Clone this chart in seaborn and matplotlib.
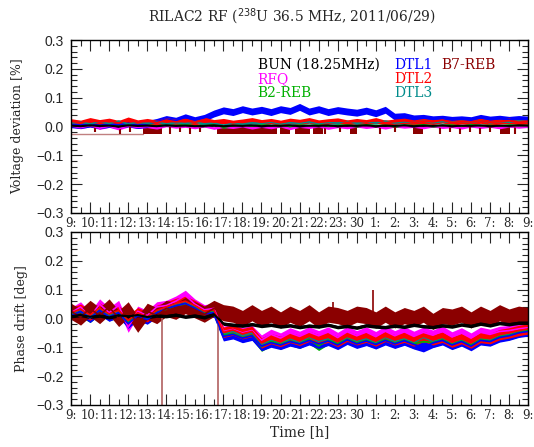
import numpy as np
import matplotlib
matplotlib.use("Agg")
import matplotlib.pyplot as plt
import seaborn as sns

# sample times, hours after 9:00 on 2011/06/29 (half-hour steps)
hours = np.arange(0, 24.01, 0.5)

tick_labels = ["9:", "10:", "11:", "12:", "13:", "14:", "15:", "16:", "17:", "18:",
               "19:", "20:", "21:", "22:", "23:", "30", "1:", "2:", "3:", "4:",
               "5:", "6:", "7:", "8:", "9:"]

# ---- voltage deviation [%] ----
bun_volt = [0.003, 0.001, 0.004, 0.002, 0.003, 0.000, 0.004, 0.002, 0.003, 0.001,
            0.004, 0.002, 0.003, 0.001, 0.002, 0.004, 0.001, 0.003, 0.002, 0.004,
            0.001, 0.003, 0.002, 0.004, 0.001, 0.003, 0.002, 0.004, 0.001, 0.003,
            0.002, 0.004, 0.001, 0.003, 0.002, 0.004, 0.001, 0.003, 0.002, 0.004,
            0.001, 0.003, 0.002, 0.004, 0.001, 0.003, 0.002, 0.004, 0.003]
rfq_volt = [0.002, -0.004, 0.003, -0.006, 0.001, -0.008, 0.002, -0.003, 0.000, -0.005,
            0.003, -0.002, 0.001, -0.004, 0.002, -0.006, 0.000, -0.003, 0.002, -0.005,
            0.001, -0.004, 0.002, -0.007, 0.001, -0.003, 0.002, -0.006, 0.000, -0.004,
            0.002, -0.003, 0.001, -0.005, 0.002, -0.002, 0.001, -0.004, 0.002, -0.003,
            0.000, -0.005, 0.002, -0.003, 0.001, -0.004, 0.002, -0.002, 0.001]
b2_volt = [0.006, 0.002, 0.008, 0.003, 0.005, 0.001, 0.007, 0.004, 0.006, 0.002,
           0.005, 0.003, 0.007, 0.002, 0.004, 0.006, -0.002, 0.003, 0.005, 0.002,
           0.006, 0.003, 0.004, 0.001, 0.005, 0.003, 0.006, 0.002, 0.004, 0.005,
           0.002, 0.006, 0.003, 0.004, 0.001, 0.005, 0.003, 0.006, 0.002, 0.004,
           0.005, 0.001, 0.006, 0.003, 0.004, 0.002, 0.005, 0.003, 0.004]
dtl1_volt = [0.008, 0.005, 0.010, 0.004, 0.009, 0.006, 0.011, 0.005, 0.009, 0.016,
             0.026, 0.020, 0.032, 0.022, 0.030, 0.045, 0.056, 0.050, 0.060, 0.052,
             0.058, 0.050, 0.060, 0.054, 0.068, 0.052, 0.060, 0.050, 0.057, 0.052,
             0.048, 0.055, 0.046, 0.058, 0.034, 0.036, 0.028, 0.030, 0.025, 0.027,
             0.023, 0.025, 0.022, 0.030, 0.024, 0.027, 0.023, 0.026, 0.024]
dtl2_volt = [0.018, 0.013, 0.022, 0.015, 0.020, 0.012, 0.024, 0.014, 0.019, 0.013,
             0.022, 0.016, 0.020, 0.014, 0.023, 0.015, 0.019, 0.013, 0.017, 0.022,
             0.015, 0.019, 0.013, 0.020, 0.016, 0.022, 0.014, 0.018, 0.021, 0.014,
             0.019, 0.015, 0.022, 0.013, 0.017, 0.020, 0.014, 0.019, 0.016, 0.022,
             0.013, 0.018, 0.015, 0.020, 0.014, 0.017, 0.020, 0.015, 0.017]
dtl3_volt = [0.012, 0.015, 0.009, 0.016, 0.010, 0.018, 0.009, 0.014, 0.011, 0.015,
             0.009, 0.013, 0.010, 0.015, 0.009, 0.012, 0.004, 0.011, 0.008, 0.013,
             0.010, 0.015, 0.009, 0.013, 0.011, 0.016, 0.010, 0.014, 0.012, 0.017,
             0.011, 0.015, 0.013, 0.018, 0.012, 0.016, 0.014, 0.019, 0.013, 0.017,
             0.014, 0.018, 0.014, 0.020, 0.013, 0.017, 0.015, 0.019, 0.016]
# B7-REB toggles between 0 and -0.025 %: dense blocks + single drops
b7_volt_low = -0.025
b7_block_start = [3.78, 7.67, 10.98, 11.76, 12.71, 14.65, 17.96, 22.53]
b7_block_end = [4.78, 10.82, 11.50, 12.55, 13.24, 15.02, 18.49, 23.06]
b7_drop_times = [1.26, 2.57, 3.10, 5.20, 5.72, 6.25, 6.78, 13.34, 14.13, 16.23,
                 17.02, 19.38, 19.91, 20.43, 20.96, 21.48, 22.01, 23.32]
b7_drop_depth = [-0.02, -0.025, -0.02, -0.025, -0.02, -0.025, -0.02, -0.025, -0.02, -0.025,
                 -0.02, -0.025, -0.02, -0.025, -0.02, -0.025, -0.02, -0.025]

# ---- phase drift [deg] ----
bun_phase = [0.008, 0.012, 0.006, 0.010, 0.004, 0.011, 0.007, 0.012, 0.005, 0.010,
             0.008, 0.013, 0.006, 0.010, 0.004, 0.015, -0.018, -0.022, -0.025, -0.020,
             -0.026, -0.022, -0.028, -0.024, -0.030, -0.025, -0.028, -0.022, -0.030, -0.026,
             -0.032, -0.024, -0.028, -0.030, -0.025, -0.029, -0.022, -0.027, -0.030, -0.024,
             -0.028, -0.021, -0.026, -0.018, -0.024, -0.016, -0.020, -0.015, -0.015]
rfq_phase = [0.020, 0.040, 0.005, 0.050, 0.020, 0.045, -0.030, 0.025, 0.010, 0.040,
             0.045, 0.060, 0.080, 0.050, 0.030, 0.035, -0.045, -0.038, -0.050, -0.042,
             -0.075, -0.055, -0.068, -0.050, -0.062, -0.047, -0.060, -0.047, -0.066, -0.046,
             -0.060, -0.047, -0.063, -0.044, -0.060, -0.046, -0.062, -0.048, -0.058, -0.044,
             -0.064, -0.050, -0.068, -0.048, -0.055, -0.045, -0.042, -0.036, -0.032]
b2_phase = [0.012, 0.022, 0.002, 0.028, 0.008, 0.018, -0.015, 0.012, -0.002, 0.022,
            0.032, 0.045, 0.050, 0.038, 0.018, 0.022, -0.058, -0.052, -0.066, -0.058,
            -0.098, -0.080, -0.090, -0.078, -0.088, -0.072, -0.095, -0.075, -0.088, -0.072,
            -0.085, -0.076, -0.088, -0.073, -0.086, -0.075, -0.088, -0.080, -0.084, -0.073,
            -0.090, -0.078, -0.092, -0.073, -0.078, -0.063, -0.058, -0.048, -0.042]
dtl1_phase = [0.010, 0.024, 0.002, 0.028, 0.006, 0.020, -0.018, 0.010, -0.004, 0.020,
              0.034, 0.044, 0.052, 0.036, 0.016, 0.020, -0.062, -0.055, -0.068, -0.060,
              -0.096, -0.084, -0.092, -0.080, -0.088, -0.076, -0.088, -0.078, -0.092, -0.074,
              -0.088, -0.078, -0.090, -0.076, -0.088, -0.077, -0.090, -0.100, -0.085, -0.076,
              -0.092, -0.080, -0.096, -0.076, -0.080, -0.066, -0.060, -0.050, -0.045]
dtl2_phase = [0.020, 0.032, 0.012, 0.036, 0.016, 0.028, -0.006, 0.020, 0.006, 0.028,
              0.040, 0.052, 0.060, 0.045, 0.025, 0.030, -0.048, -0.040, -0.053, -0.045,
              -0.085, -0.070, -0.080, -0.066, -0.076, -0.062, -0.074, -0.065, -0.080, -0.062,
              -0.074, -0.065, -0.078, -0.062, -0.074, -0.065, -0.078, -0.062, -0.074, -0.065,
              -0.082, -0.070, -0.085, -0.066, -0.070, -0.056, -0.050, -0.042, -0.036]
dtl3_phase = [0.015, 0.030, 0.005, 0.035, 0.010, 0.025, -0.015, 0.015, 0.000, 0.025,
              0.038, 0.050, 0.058, 0.040, 0.020, 0.025, -0.055, -0.045, -0.060, -0.050,
              -0.090, -0.075, -0.088, -0.070, -0.085, -0.065, -0.080, -0.070, -0.088, -0.065,
              -0.080, -0.070, -0.085, -0.065, -0.080, -0.070, -0.085, -0.065, -0.080, -0.070,
              -0.088, -0.075, -0.090, -0.070, -0.075, -0.060, -0.055, -0.045, -0.040]
b7_phase = [0.025, 0.005, 0.035, 0.010, 0.040, 0.000, 0.030, -0.020, 0.025, 0.010,
            0.035, 0.025, 0.045, 0.030, 0.015, 0.035, 0.020, 0.015, 0.000, 0.020,
            0.000, 0.015, -0.005, 0.015, 0.000, 0.020, -0.005, 0.015, 0.010, 0.000,
            0.015, 0.010, -0.005, 0.015, -0.005, 0.010, 0.000, 0.015, -0.010, 0.010,
            0.005, 0.015, -0.005, 0.015, 0.000, 0.020, 0.005, 0.015, 0.010]
b7_phase_spike_times = [13.76, 15.86]
b7_phase_spike_tops = [0.057, 0.099]
b7_phase_glitch_times = [4.78, 7.70]
b7_phase_glitch_low = -0.3

# half width of the fast noise seen around each trace
noise_volt = {"BUN": 0.003, "RFQ": 0.004, "B2-REB": 0.004, "DTL1": 0.012,
              "DTL2": 0.009, "DTL3": 0.005}
noise_phase = {"BUN": 0.006, "RFQ": 0.018, "B2-REB": 0.016, "DTL1": 0.016,
               "DTL2": 0.018, "DTL3": 0.012, "B7-REB": 0.028}

colors = {"BUN": "black", "RFQ": "#ff00ff", "B2-REB": "#00b000", "DTL1": "#0000ff",
          "DTL2": "#ff0000", "DTL3": "#008b8b", "B7-REB": "#8b0000"}

sns.set_style("ticks")
plt.rcParams["font.family"] = ["DejaVu Serif"]

fig = plt.figure(figsize=(5.34, 4.47), dpi=100)
ax1 = fig.add_axes([0.133, 0.5235, 0.856, 0.387])
ax2 = fig.add_axes([0.133, 0.094, 0.856, 0.387])


def style_axes(ax, ylabel):
    ax.set_xlim(0, 24)
    ax.set_ylim(-0.3, 0.3)
    ax.set_xticks(np.arange(0, 25, 1))
    ax.set_xticks(np.arange(0, 24.01, 0.5), minor=True)
    ax.set_xticklabels(tick_labels, fontsize=8.5, family="DejaVu Serif")
    ax.set_yticks([-0.3, -0.2, -0.1, 0.0, 0.1, 0.2, 0.3])
    ax.set_yticks(np.arange(-0.3, 0.301, 0.02), minor=True)
    ax.set_yticklabels(["\u22120.3", "\u22120.2", "\u22120.1", "0.0", "0.1", "0.2", "0.3"],
                       fontsize=10, family="Liberation Sans")
    ax.tick_params(which="major", direction="in", length=8, width=0.8,
                   top=True, right=True, pad=3)
    ax.tick_params(which="minor", direction="in", length=4, width=0.8,
                   top=True, right=True)
    ax.tick_params(axis="y", which="major", pad=5)
    for sp in ax.spines.values():
        sp.set_linewidth(1.0)
        sp.set_color("black")
    ax.set_ylabel(ylabel, fontsize=9)


def trace(ax, name, vals, noise, lw=1.2):
    v = np.asarray(vals)
    ax.fill_between(hours, v - noise[name], v + noise[name], color=colors[name], lw=0)
    sns.lineplot(x=hours, y=v, color=colors[name], lw=lw, ax=ax)


# top panel: voltage deviation
ax1.plot([0, b7_block_start[0]], [b7_volt_low, b7_volt_low], color="#c08080", lw=1.0)
for s, e in zip(b7_block_start, b7_block_end):
    ax1.fill_between([s, e], b7_volt_low, 0, color=colors["B7-REB"], lw=0)
ax1.vlines(b7_drop_times, b7_drop_depth, 0, color=colors["B7-REB"], lw=1.5)
for name, vals in [("RFQ", rfq_volt), ("B2-REB", b2_volt), ("DTL1", dtl1_volt),
                   ("DTL3", dtl3_volt), ("DTL2", dtl2_volt)]:
    trace(ax1, name, vals, noise_volt)
trace(ax1, "BUN", bun_volt, noise_volt, lw=1.5)
style_axes(ax1, "Voltage deviation [%]")
ax1.yaxis.set_label_coords(-0.103, 0.5)

legend_items = [("BUN (18.25MHz)", 0.408, 0.855), ("RFQ", 0.408, 0.775), ("B2-REB", 0.408, 0.695),
                ("DTL1", 0.707, 0.855), ("DTL2", 0.707, 0.775), ("DTL3", 0.707, 0.695),
                ("B7-REB", 0.810, 0.855)]
for label, x, y in legend_items:
    key = "BUN" if label.startswith("BUN") else label
    ax1.text(x, y, label, color=colors[key], fontsize=10, transform=ax1.transAxes,
             ha="left", va="center")

# bottom panel: phase drift
ax2.vlines(b7_phase_glitch_times, b7_phase_glitch_low, 0, color="#b06060", lw=1.2)
for name, vals in [("RFQ", rfq_phase), ("DTL3", dtl3_phase), ("B2-REB", b2_phase),
                   ("DTL1", dtl1_phase), ("DTL2", dtl2_phase)]:
    trace(ax2, name, vals, noise_phase)
trace(ax2, "B7-REB", b7_phase, noise_phase)
ax2.vlines(b7_phase_spike_times, 0.02, b7_phase_spike_tops, color=colors["B7-REB"], lw=1.2)
trace(ax2, "BUN", bun_phase, noise_phase, lw=1.5)
style_axes(ax2, "Phase drift [deg]")
ax2.yaxis.set_label_coords(-0.094, 0.5)
ax2.set_xlabel("Time [h]", fontsize=10, labelpad=2)

fig.suptitle("RILAC2 RF ($^{238}$U 36.5 MHz, 2011/06/29)", x=0.547, y=0.985,
             fontsize=10)

fig.savefig("out.png", dpi=100)
